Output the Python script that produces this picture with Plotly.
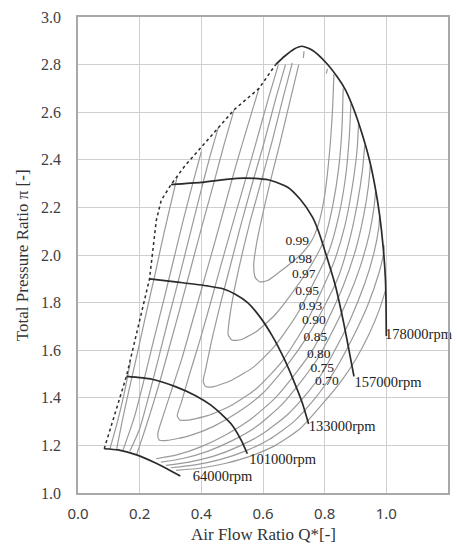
import plotly.graph_objects as go

# ---- speed lines (Q*, pi) ----
n64000 = [(0.085, 1.186), (0.13, 1.181), (0.19, 1.16), (0.25, 1.127), (0.29, 1.101), (0.332, 1.071)]
n101000 = [(0.157, 1.49), (0.24, 1.478), (0.32, 1.445), (0.38, 1.41), (0.43, 1.37), (0.47, 1.325),
           (0.50, 1.285), (0.53, 1.22), (0.549, 1.165)]
n133000 = [(0.232, 1.90), (0.33, 1.885), (0.42, 1.87), (0.47, 1.858), (0.51, 1.835), (0.55, 1.80),
           (0.59, 1.74), (0.63, 1.66), (0.67, 1.56), (0.70, 1.47), (0.727, 1.38), (0.748, 1.29)]
n157000 = [(0.302, 2.296), (0.40, 2.305), (0.48, 2.318), (0.54, 2.323), (0.62, 2.315), (0.68, 2.285),
           (0.72, 2.235), (0.76, 2.16), (0.78, 2.10), (0.805, 2.0), (0.835, 1.87), (0.862, 1.713),
           (0.883, 1.572), (0.895, 1.49)]
n178000 = [(0.641, 2.80), (0.67, 2.835), (0.70, 2.865), (0.727, 2.877), (0.76, 2.86), (0.803, 2.81),
           (0.84, 2.75), (0.867, 2.695), (0.895, 2.61), (0.921, 2.51), (0.945, 2.40), (0.963, 2.29),
           (0.978, 2.17), (0.99, 2.03), (0.997, 1.90), (0.999, 1.80), (1.0, 1.66)]
speed_names = ["64000rpm", "101000rpm", "133000rpm", "157000rpm", "178000rpm"]
speed_label_pos = [(0.372, 1.067), (0.555, 1.137), (0.748, 1.277), (0.897, 1.462), (0.996, 1.663)]

# ---- surge line ----
surge = [(0.085, 1.186), (0.157, 1.49), (0.232, 1.90), (0.243, 2.02), (0.254, 2.146), (0.27, 2.23),
         (0.302, 2.296), (0.345, 2.372), (0.41, 2.47), (0.506, 2.61), (0.587, 2.70), (0.641, 2.80)]

# ---- efficiency contours: left branch (top -> bottom), right branch (bottom -> top) ----
eta_levels = ["0.99", "0.98", "0.97", "0.95", "0.93", "0.90", "0.85", "0.80", "0.75", "0.70"]
eta_099 = [(0.716, 2.80), (0.69, 2.66), (0.655, 2.47), (0.622, 2.30), (0.597, 2.16), (0.578, 2.04),
           (0.57, 1.96), (0.575, 1.905), (0.59, 1.887), (0.615, 1.893), (0.65, 1.925), (0.69, 1.965),
           (0.725, 2.005), (0.756, 2.056), (0.78, 2.13), (0.80, 2.25), (0.815, 2.42), (0.825, 2.6),
           (0.83, 2.76)]
eta_098 = [(0.695, 2.807), (0.665, 2.66), (0.628, 2.47), (0.59, 2.29), (0.556, 2.13), (0.528, 1.98),
           (0.505, 1.84), (0.49, 1.72), (0.487, 1.665), (0.5, 1.642), (0.53, 1.645), (0.58, 1.68),
           (0.64, 1.75), (0.70, 1.85), (0.766, 1.979), (0.80, 2.07), (0.825, 2.2), (0.845, 2.36),
           (0.856, 2.53), (0.86, 2.70)]
eta_097 = [(0.673, 2.80), (0.642, 2.66), (0.603, 2.47), (0.563, 2.29), (0.527, 2.12), (0.495, 1.96),
           (0.463, 1.80), (0.435, 1.65), (0.414, 1.52), (0.406, 1.47), (0.414, 1.447), (0.44, 1.447),
           (0.50, 1.475), (0.57, 1.53), (0.64, 1.62), (0.71, 1.75), (0.777, 1.916), (0.815, 2.02),
           (0.845, 2.16), (0.868, 2.33), (0.88, 2.5), (0.885, 2.635)]
eta_095 = [(0.65, 2.80), (0.618, 2.66), (0.577, 2.47), (0.535, 2.28), (0.497, 2.11), (0.462, 1.95),
           (0.428, 1.79), (0.395, 1.64), (0.362, 1.50), (0.335, 1.38), (0.322, 1.325), (0.33, 1.307),
           (0.355, 1.306), (0.42, 1.325), (0.50, 1.37), (0.58, 1.44), (0.66, 1.55), (0.73, 1.69),
           (0.788, 1.845), (0.83, 1.97), (0.865, 2.12), (0.89, 2.29), (0.905, 2.44), (0.91, 2.55)]
eta_093 = [(0.587, 2.70), (0.552, 2.55), (0.513, 2.38), (0.477, 2.21), (0.443, 2.05), (0.408, 1.89),
           (0.373, 1.73), (0.338, 1.57), (0.303, 1.43), (0.275, 1.32), (0.259, 1.25), (0.263, 1.223),
           (0.29, 1.221), (0.36, 1.24), (0.44, 1.28), (0.52, 1.34), (0.60, 1.42), (0.68, 1.54),
           (0.745, 1.66), (0.799, 1.785), (0.845, 1.91), (0.88, 2.06), (0.905, 2.21), (0.922, 2.35),
           (0.93, 2.46)]
eta_090_left = [(0.506, 2.61), (0.475, 2.47), (0.442, 2.31), (0.408, 2.15), (0.373, 1.98), (0.338, 1.81),
                (0.303, 1.645), (0.268, 1.48), (0.238, 1.35), (0.212, 1.245), (0.19, 1.16)]
eta_090_right = [(0.253, 1.144), (0.32, 1.16), (0.40, 1.195), (0.48, 1.245), (0.56, 1.31), (0.64, 1.40),
                 (0.71, 1.51), (0.765, 1.61), (0.81, 1.726), (0.86, 1.87), (0.90, 2.02), (0.927, 2.17),
                 (0.942, 2.29), (0.948, 2.375)]
eta_085_left = [(0.455, 2.535), (0.425, 2.40), (0.393, 2.24), (0.36, 2.07), (0.327, 1.90), (0.293, 1.73),
                (0.26, 1.56), (0.228, 1.40), (0.2, 1.27), (0.168, 1.175)]
eta_085_right = [(0.269, 1.13), (0.34, 1.145), (0.42, 1.175), (0.50, 1.22), (0.58, 1.28), (0.66, 1.37),
                 (0.73, 1.48), (0.775, 1.56), (0.815, 1.653), (0.87, 1.80), (0.915, 1.95), (0.945, 2.09),
                 (0.96, 2.2), (0.965, 2.265)]
eta_080_left = [(0.40, 2.435), (0.372, 2.30), (0.342, 2.15), (0.31, 1.98), (0.278, 1.81), (0.245, 1.64),
                (0.213, 1.47), (0.183, 1.32), (0.146, 1.18)]
eta_080_right = [(0.285, 1.116), (0.36, 1.13), (0.44, 1.155), (0.52, 1.195), (0.60, 1.25), (0.68, 1.33),
                 (0.75, 1.43), (0.79, 1.5), (0.826, 1.583), (0.88, 1.72), (0.93, 1.88), (0.96, 2.01),
                 (0.975, 2.11), (0.978, 2.16)]
eta_075_left = [(0.322, 2.33), (0.30, 2.21), (0.275, 2.07), (0.25, 1.92), (0.222, 1.76), (0.193, 1.59),
                (0.165, 1.43), (0.143, 1.30), (0.125, 1.182)]
eta_075_right = [(0.301, 1.106), (0.38, 1.118), (0.46, 1.14), (0.54, 1.175), (0.62, 1.225), (0.70, 1.30),
                 (0.77, 1.40), (0.805, 1.46), (0.837, 1.523), (0.89, 1.65), (0.94, 1.79), (0.975, 1.92),
                 (0.99, 2.0), (0.993, 2.04)]
eta_070_left = [(0.17, 1.55), (0.15, 1.42), (0.128, 1.30), (0.103, 1.183)]
eta_070_right = [(0.318, 1.095), (0.40, 1.105), (0.48, 1.125), (0.56, 1.155), (0.64, 1.20), (0.72, 1.27),
                 (0.79, 1.37), (0.852, 1.467), (0.90, 1.56), (0.945, 1.67), (0.98, 1.78), (0.997, 1.85)]
# short contour pieces just under the 178000rpm peak
eta_tip_a = [(0.731, 2.828), (0.733, 2.856)]
eta_tip_b = [(0.805, 2.762), (0.809, 2.782)]
eta_label_pos = [(0.711, 2.056), (0.721, 1.979), (0.732, 1.916), (0.743, 1.845), (0.754, 1.785),
                 (0.765, 1.726), (0.770, 1.653), (0.781, 1.583), (0.792, 1.523), (0.807, 1.467)]

SERIF = "Liberation Serif, Times New Roman, serif"
SANS = "Noto Sans, Arial, sans-serif"
CONTOUR = "#9a9a9a"
INK = "#2b2b2b"

fig = go.Figure()


def add_line(points, color, width, dash="solid", smooth=True):
    fig.add_trace(go.Scatter(
        x=[p[0] for p in points], y=[p[1] for p in points], mode="lines",
        line=dict(color=color, width=width, dash=dash,
                  shape="spline" if smooth else "linear", smoothing=0.6),
        hoverinfo="skip", showlegend=False))


contour_branches = [eta_099, eta_098, eta_097, eta_095, eta_093,
                    eta_090_left, eta_090_right, eta_085_left, eta_085_right,
                    eta_080_left, eta_080_right, eta_075_left, eta_075_right,
                    eta_070_left, eta_070_right, eta_tip_a, eta_tip_b]
for branch in contour_branches:
    add_line(branch, CONTOUR, 1.2)

add_line(surge, INK, 1.5, dash="dot", smooth=False)
for line in [n64000, n101000, n133000, n157000, n178000]:
    add_line(line, INK, 1.7)

fig.add_trace(go.Scatter(
    x=[p[0] for p in eta_label_pos], y=[p[1] for p in eta_label_pos], text=eta_levels,
    mode="text", textposition="middle center",
    textfont=dict(family=SERIF, size=13.5, color="#222222"),
    hoverinfo="skip", showlegend=False))
fig.add_trace(go.Scatter(
    x=[p[0] for p in speed_label_pos], y=[p[1] for p in speed_label_pos], text=speed_names,
    mode="text", textposition="middle right",
    textfont=dict(family=SERIF, size=14.5, color="#222222"),
    hoverinfo="skip", showlegend=False, cliponaxis=False))

axis_common = dict(showgrid=True, gridcolor="#cfcfcf", gridwidth=1.3, zeroline=False,
                   showline=True, mirror=True, linecolor="#a8a8a8", linewidth=1.5,
                   ticks="", tickformat=".1f", dtick=0.2)
fig.update_xaxes(range=[0, 1.2], tick0=0, tickfont=dict(family=SANS, size=15, color="#404040"),
                 ticklabelstandoff=6, **axis_common)
fig.update_yaxes(range=[1.0, 3.0], tick0=1.0, tickfont=dict(family=SERIF, size=16, color="#404040"),
                 ticklabelstandoff=12, **axis_common)

fig.add_annotation(text="Air Flow Ratio Q*[-]", xref="paper", yref="paper", x=0.5, y=-0.088,
                   xanchor="center", yanchor="middle", showarrow=False,
                   font=dict(family=SERIF, size=17, color="#333333"))
fig.add_annotation(text="Total Pressure Ratio π [-]", xref="paper", yref="paper", x=-0.151, y=0.5,
                   xanchor="center", yanchor="middle", textangle=-90, showarrow=False,
                   font=dict(family=SERIF, size=17, color="#333333"))

fig.update_layout(width=457, height=545, margin=dict(l=78, r=7, t=17, b=52),
                  paper_bgcolor="white", plot_bgcolor="white")
fig.write_html("out.html")
